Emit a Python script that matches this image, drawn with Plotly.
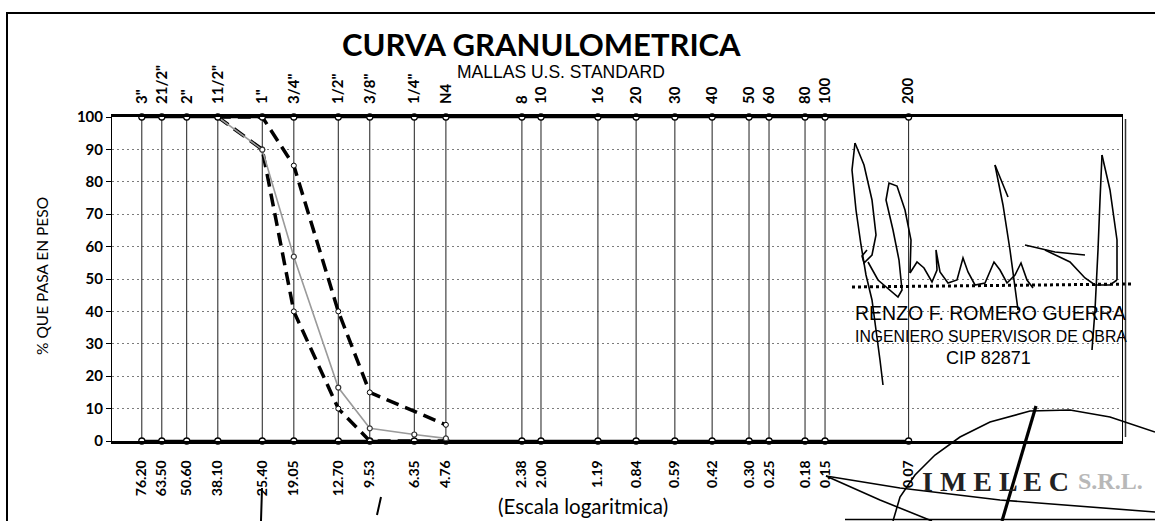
import plotly.graph_objects as go

# Sieve openings (mm), U.S. standard mesh names and printed size labels
sieve_mm = [76.20, 63.50, 50.60, 38.10, 25.40, 19.05, 12.70, 9.53, 6.35, 4.76,
            2.38, 2.00, 1.19, 0.84, 0.59, 0.42, 0.30, 0.25, 0.18, 0.15, 0.07]
mesh_names = ['3"', '21/2"', '2"', '11/2"', '1"', '3/4"', '1/2"', '3/8"', '1/4"', 'N4',
              '8', '10', '16', '20', '30', '40', '50', '60', '80', '100', '200']
size_labels = ["76.20", "63.50", "50.60", "38.10", "25.40", "19.05", "12.70", "9.53",
               "6.35", "4.76", "2.38", "2.00", "1.19", "0.84", "0.59", "0.42", "0.30",
               "0.25", "0.18", "0.15", "0.07"]

# Sample grading (% passing)
sample_mm = [76.20, 63.50, 50.60, 38.10, 25.40, 19.05, 12.70, 9.53, 6.35, 4.76]
sample_pass = [100, 100, 100, 100, 89.9, 56.9, 16.5, 3.9, 2.0, 0.8]

# Specification envelope (upper / lower limits)
spec_mm = [38.10, 25.40, 19.05, 12.70, 9.53, 4.76]
spec_upper = [100, 100, 85, 40, 15, 5]
spec_lower = [100, 90, 40, 10, 0, 0]

# plot-area geometry in pixels, used to place page decorations
L, R, T, B = 112, 1122, 117, 441
W, H = 1155, 521


def px(x):
    return (x - L) / (R - L)


def py(y):
    return (B - y) / (B - T)


fig = go.Figure()

# vertical line at every sieve
vx, vy = [], []
for s in sieve_mm:
    vx += [s, s, None]
    vy += [0, 100, None]
fig.add_trace(go.Scatter(x=vx, y=vy, mode="lines", line=dict(color="#1e1e1e", width=1),
                         hoverinfo="skip"))

circle = dict(symbol="circle", size=6, color="white", line=dict(color="black", width=1.3))

# 100 % and 0 % reference lines with sieve markers
fig.add_trace(go.Scatter(x=sieve_mm, y=[100] * len(sieve_mm), mode="lines+markers",
                         line=dict(color="black", width=2.5), marker=circle,
                         xaxis="x2", cliponaxis=False))
fig.add_trace(go.Scatter(x=sieve_mm, y=[0] * len(sieve_mm), mode="lines+markers",
                         line=dict(color="black", width=2.5), marker=circle,
                         cliponaxis=False))

small = dict(symbol="circle", size=5, color="white", line=dict(color="black", width=1))
fig.add_trace(go.Scatter(x=spec_mm, y=spec_lower, mode="lines+markers",
                         line=dict(color="black", width=3.5, dash="13px,7px"),
                         marker=small, cliponaxis=False))
fig.add_trace(go.Scatter(x=spec_mm, y=spec_upper, mode="lines+markers",
                         line=dict(color="black", width=3.5, dash="13px,7px"),
                         marker=small, cliponaxis=False))
fig.add_trace(go.Scatter(x=sample_mm, y=sample_pass, mode="lines+markers",
                         line=dict(color="#9a9a9a", width=1.6),
                         marker=dict(symbol="circle", size=5, color="white",
                                     line=dict(color="#333", width=1.2)),
                         cliponaxis=False))

xcommon = dict(type="log", range=[2, -2], showgrid=False, zeroline=False,
               tickmode="array", tickvals=sieve_mm, tickangle=-90, ticks="")

fig.update_layout(
    width=W, height=H,
    margin=dict(l=L, r=W - R, t=T, b=H - B, pad=0),
    paper_bgcolor="white", plot_bgcolor="white", showlegend=False,
    xaxis=dict(**xcommon, ticktext=size_labels,
               tickfont=dict(family="Lato", size=14, color="black", weight="bold"),
               ticklabelstandoff=11,
               showline=True, mirror=True, linecolor="black", linewidth=2.5),
    xaxis2=dict(**xcommon, ticktext=mesh_names, overlaying="x", side="top",
                tickfont=dict(family="Lato", size=15, color="black", weight="bold"),
                ticklabelstandoff=12, showline=False),
    yaxis=dict(range=[0, 100], dtick=10, showgrid=True, gridcolor="#7c7c7c",
               griddash="2px,3px", gridwidth=1, zeroline=False,
               ticks="outside", ticklen=5, tickcolor="black",
               showline=True, mirror=True, linecolor="black", linewidth=1,
               tickfont=dict(family="Lato", size=15, color="black", weight="bold")),
)

ann = []
ann.append(dict(text="<b>CURVA GRANULOMETRICA</b>", x=px(541), y=py(44), xref="paper",
                yref="paper", showarrow=False, xanchor="center", yanchor="middle",
                font=dict(family="Lato", size=31, color="black")))
ann.append(dict(text="MALLAS U.S. STANDARD", x=px(561), y=py(72), xref="paper",
                yref="paper", showarrow=False, xanchor="center", yanchor="middle",
                font=dict(family="Liberation Sans", size=17.5, color="black")))
ann.append(dict(text="(Escala logaritmica)", x=px(583), y=py(506), xref="paper",
                yref="paper", showarrow=False, xanchor="center", yanchor="middle",
                font=dict(family="Lato", size=20.5, color="black")))
ann.append(dict(text="% QUE PASA EN PESO", x=px(42), y=py(276), xref="paper",
                yref="paper", showarrow=False, textangle=-90, xanchor="center",
                yanchor="middle", font=dict(family="Lato", size=15.5, color="black")))

# engineer's signature block
sans = "Liberation Sans, Arial, sans-serif"
for txt, xx, yy, anc, sz in [("RENZO F. ROMERO GUERRA", 853, 313, "left", 19.5),
                             ("INGENIERO SUPERVISOR DE OBRA", 853, 336, "left", 15.8),
                             ("CIP 82871", 988, 358, "center", 18)]:
    ann.append(dict(text=txt, x=px(xx), y=py(yy), xref="paper", yref="paper",
                    showarrow=False, xanchor=anc, yanchor="middle",
                    font=dict(family=sans, size=sz, color="black")))

# company stamp text
ann.append(dict(text="<b>I M E L E C</b>", x=px(920), y=py(481), xref="paper", yref="paper",
                showarrow=False, xanchor="left", yanchor="middle",
                font=dict(family="Liberation Serif", size=28, color="#222")))
ann.append(dict(text="<b>S.R.L.</b>", x=px(1076), y=py(481), xref="paper", yref="paper",
                showarrow=False, xanchor="left", yanchor="middle",
                font=dict(family="Liberation Serif", size=24, color="#b8b8b8")))
fig.update_layout(annotations=ann)


def path(points):
    d = "M %f,%f" % (px(points[0][0]), py(points[0][1]))
    for a, b in points[1:]:
        d += " L %f,%f" % (px(a), py(b))
    return d


shapes = []
pen = dict(color="black", width=1.6)
# page border
shapes.append(dict(type="path", xref="paper", yref="paper",
                   path=path([(7, 521), (7, 13), (1155, 13)]), line=dict(color="black", width=2)))
# double right frame edge
shapes.append(dict(type="line", xref="paper", yref="paper", x0=px(1125.5), x1=px(1125.5),
                   y0=py(119), y1=py(437), line=dict(color="#333", width=1.5)))
# dotted signature line
shapes.append(dict(type="line", xref="paper", yref="paper", x0=px(852), x1=px(1132),
                   y0=py(287), y1=py(284), line=dict(color="black", width=3, dash="dot")))
# signature strokes
strokes = [
    [(855, 143), (852, 170), (856, 210), (861, 245), (866, 275), (872, 300), (876, 330)],
    [(855, 143), (864, 165), (872, 200), (876, 235), (872, 255), (864, 263), (862, 256), (867, 250)],
    [(868, 262), (878, 280), (898, 297), (902, 290), (899, 260), (893, 230), (886, 200),
     (889, 183), (897, 186), (905, 210), (911, 240), (910, 273)],
    [(910, 273), (917, 262), (924, 268), (932, 282), (937, 270), (936, 250), (940, 272),
     (948, 283), (957, 280), (963, 258), (968, 272), (975, 285), (985, 283), (994, 262),
     (1000, 270), (1007, 283), (1015, 275), (1021, 263), (1027, 280), (1033, 288)],
    [(995, 165), (1003, 205), (1010, 250), (1018, 310)],
    [(995, 165), (1008, 197)],
    [(1025, 245), (1055, 252), (1085, 255)],
    [(1045, 250), (1070, 262), (1085, 278), (1095, 285), (1110, 285), (1117, 280)],
    [(1102, 155), (1100, 200), (1098, 250), (1095, 310), (1092, 350)],
    [(1102, 155), (1110, 190), (1117, 240), (1117, 280)],
    [(876, 330), (880, 360), (883, 385)],
]
for st in strokes:
    shapes.append(dict(type="path", xref="paper", yref="paper", path=path(st), line=pen))
# stamp outline
stamp = [
    [(893, 521), (900, 497), (915, 475), (935, 455), (960, 437), (990, 422), (1030, 411),
     (1070, 410), (1110, 417), (1155, 432)],
    [(826, 476), (900, 488), (1000, 500), (1155, 512)],
    [(826, 476), (880, 500), (932, 521)],
    [(845, 519.5), (1155, 519.5)],
]
for st in stamp:
    shapes.append(dict(type="path", xref="paper", yref="paper", path=path(st),
                       line=dict(color="black", width=1.6)))
shapes.append(dict(type="line", xref="paper", yref="paper", x0=px(1036), y0=py(406),
                   x1=px(1002), y1=py(521), line=dict(color="black", width=3.2)))
# stray pen marks along the bottom edge
shapes.append(dict(type="line", xref="paper", yref="paper", x0=px(262), y0=py(488),
                   x1=px(261), y1=py(521), line=dict(color="black", width=2)))
shapes.append(dict(type="line", xref="paper", yref="paper", x0=px(381), y0=py(497),
                   x1=px(377), y1=py(515), line=dict(color="black", width=2)))
fig.update_layout(shapes=shapes)

fig.write_html("out.html")
